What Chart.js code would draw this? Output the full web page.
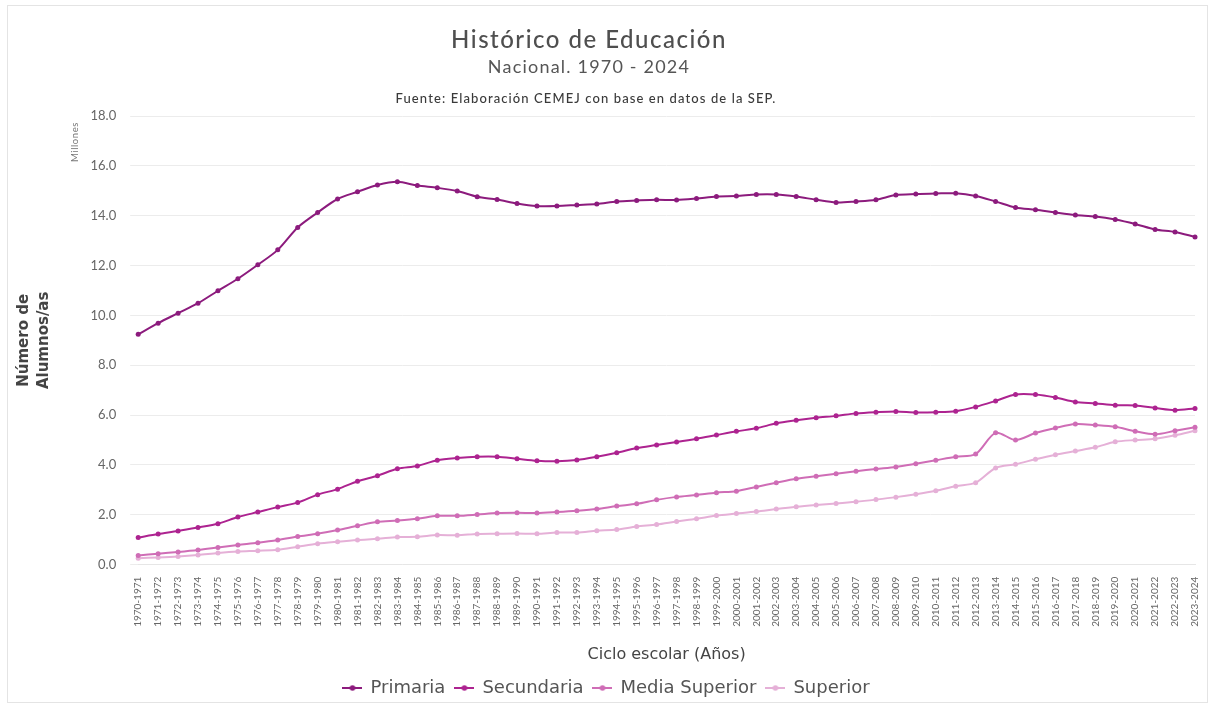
<!DOCTYPE html>
<html>
<head>
<meta charset="utf-8">
<script src="https://cdn.jsdelivr.net/npm/chart.js@4.4.1/dist/chart.umd.min.js"></script>
<style>
  html, body { margin: 0; padding: 0; background: #fff; }
  #wrap { width: 1211px; height: 707px; position: relative; }
</style>
</head>
<body>
<div id="wrap"><canvas id="educacionChart" width="1211" height="707"></canvas></div>
<script>
// ciclos escolares 1970-1971 ... 2023-2024
const ciclos = [];
for (let y = 1970; y <= 2023; y++) ciclos.push(y + "-" + (y + 1));

const primaria = [
  9.24, 9.69, 10.09, 10.49, 10.99, 11.47, 12.03, 12.63, 13.53, 14.13,
  14.67, 14.96, 15.23, 15.36, 15.21, 15.12, 14.99, 14.76, 14.65, 14.49,
  14.39, 14.39, 14.43, 14.47, 14.57, 14.61, 14.64, 14.63, 14.69, 14.77,
  14.79, 14.85, 14.85, 14.77, 14.64, 14.53, 14.57, 14.64, 14.83, 14.87,
  14.89, 14.9, 14.79, 14.57, 14.33, 14.24, 14.13, 14.03, 13.97, 13.85,
  13.67, 13.45, 13.35, 13.15,
];
const secundaria = [
  1.09, 1.23, 1.35, 1.49, 1.64, 1.91, 2.11, 2.31, 2.49, 2.81,
  3.03, 3.35, 3.57, 3.85, 3.96, 4.19, 4.28, 4.33, 4.33, 4.25,
  4.17, 4.15, 4.2, 4.33, 4.49, 4.68, 4.8, 4.92, 5.05, 5.2,
  5.35, 5.47, 5.67, 5.79, 5.89, 5.97, 6.07, 6.12, 6.15, 6.11,
  6.12, 6.16, 6.33, 6.57, 6.83, 6.83, 6.71, 6.53, 6.47, 6.4,
  6.39, 6.29, 6.2, 6.27,
];
const mediaSuperior = [
  0.37, 0.44, 0.51, 0.59, 0.69, 0.79, 0.88, 0.99, 1.13, 1.24,
  1.39, 1.56, 1.72, 1.77, 1.84, 1.96, 1.96, 2.01, 2.07, 2.08,
  2.07, 2.11, 2.16, 2.23, 2.35, 2.44, 2.6, 2.72, 2.8, 2.89,
  2.95, 3.12, 3.29, 3.45, 3.55, 3.65, 3.75, 3.84, 3.92, 4.05,
  4.19, 4.33, 4.44, 5.29, 5.0, 5.28, 5.48, 5.64, 5.6, 5.53,
  5.35, 5.23, 5.37, 5.51,
];
const superior = [
  0.26, 0.29, 0.33, 0.39, 0.47, 0.53, 0.56, 0.6, 0.72, 0.84,
  0.92, 0.99, 1.04, 1.11, 1.12, 1.19, 1.18, 1.23, 1.24, 1.25,
  1.24, 1.29, 1.29, 1.36, 1.41, 1.53, 1.61, 1.73, 1.84, 1.97,
  2.05, 2.13, 2.23, 2.32, 2.39, 2.45, 2.52, 2.61, 2.71, 2.83,
  2.97, 3.15, 3.29, 3.88, 4.03, 4.23, 4.41, 4.56, 4.71, 4.93,
  5.0, 5.05, 5.19, 5.37,
];

const colores = ["#8c1b7d", "#ad2390", "#cf6db6", "#e5b0d7"];
const FONT = "Lato, 'Noto Sans', sans-serif";
const FONT_ANCHA = "'DejaVu Sans', sans-serif";

// icono de leyenda: linea con punto
function iconoLeyenda(color) {
  const c = document.createElement("canvas");
  c.width = 20;
  c.height = 10;
  const x = c.getContext("2d");
  x.strokeStyle = color;
  x.lineWidth = 2;
  x.beginPath();
  x.moveTo(0, 5);
  x.lineTo(20, 5);
  x.stroke();
  x.fillStyle = color;
  x.beginPath();
  x.arc(10, 5, 2.8, 0, Math.PI * 2);
  x.fill();
  return c;
}

function serie(label, data, color) {
  return {
    label: label,
    data: data,
    borderColor: color,
    backgroundColor: color,
    borderWidth: 2,
    pointRadius: 2.5,
    pointBackgroundColor: color,
    pointBorderColor: color,
    pointBorderWidth: 0,
    tension: 0.3,
    fill: false,
  };
}

// textos de encabezado y "Millones"
const encabezado = {
  id: "encabezado",
  afterDraw(chart) {
    const ctx = chart.ctx;
    ctx.save();
    ctx.textAlign = "center";
    ctx.textBaseline = "middle";
    ctx.fillStyle = "#4f4f4f";
    ctx.font = "500 24px " + FONT;
    ctx.letterSpacing = "1.5px";
    ctx.fillText("Histórico de Educación", 589, 40);
    ctx.fillStyle = "#555";
    ctx.font = "18px " + FONT;
    ctx.letterSpacing = "1.2px";
    ctx.fillText("Nacional. 1970 - 2024", 589, 67);
    ctx.fillStyle = "#3a3a3a";
    ctx.font = "500 13px " + FONT;
    ctx.letterSpacing = "1.1px";
    ctx.fillText("Fuente: Elaboración CEMEJ con base en datos de la SEP.", 586, 99);
    ctx.translate(75, 142);
    ctx.rotate(-Math.PI / 2);
    ctx.fillStyle = "#777";
    ctx.font = "9.5px " + FONT;
    ctx.letterSpacing = "0.6px";
    ctx.fillText("Millones", 0, 0);
    ctx.restore();
    // marco
    ctx.save();
    ctx.strokeStyle = "#e4e4e4";
    ctx.lineWidth = 1;
    ctx.strokeRect(7.5, 5.5, 1200, 697);
    ctx.restore();
  },
};

const ctx = document.getElementById("educacionChart");

new Chart(ctx, {
  type: "line",
  data: {
    labels: ciclos,
    datasets: [
      serie("Primaria", primaria, colores[0]),
      serie("Secundaria", secundaria, colores[1]),
      serie("Media Superior", mediaSuperior, colores[2]),
      serie("Superior", superior, colores[3]),
    ],
  },
  options: {
    responsive: false,
    animation: false,
    layout: {
      padding: { top: 116, left: 10, right: 8, bottom: 0 },
    },
    plugins: {
      legend: {
        position: "bottom",
        labels: {
          usePointStyle: true,
          color: "#555",
          font: { family: FONT_ANCHA, size: 18 },
          padding: 10,
          generateLabels: function (chart) {
            const items = Chart.defaults.plugins.legend.labels.generateLabels(chart);
            return items.map(function (it, i) {
              it.pointStyle = iconoLeyenda(colores[i]);
              return it;
            });
          },
        },
      },
      tooltip: { enabled: false },
    },
    scales: {
      x: {
        grid: { display: false },
        border: { color: "#e6e6e6" },
        ticks: {
          color: "#666",
          font: { family: FONT, size: 10 },
          maxRotation: 90,
          minRotation: 90,
          autoSkip: false,
          padding: 4,
        },
        title: {
          display: true,
          text: "Ciclo escolar (Años)",
          color: "#444",
          font: { family: FONT_ANCHA, size: 16 },
          padding: { top: 14, bottom: 5 },
        },
      },
      y: {
        min: 0,
        max: 18,
        grid: { color: "#ececec" },
        border: { display: false },
        ticks: {
          stepSize: 2,
          color: "#666",
          font: { family: FONT, size: 13 },
          padding: 14,
          callback: function (value) {
            return value.toFixed(1);
          },
        },
        title: {
          display: true,
          text: ["Número de", "Alumnos/as"],
          color: "#444",
          font: { family: FONT_ANCHA, size: 15, weight: "bold", lineHeight: 1.35 },
          padding: { bottom: 22 },
        },
      },
    },
  },
  plugins: [encabezado],
});
</script>
</body>
</html>
